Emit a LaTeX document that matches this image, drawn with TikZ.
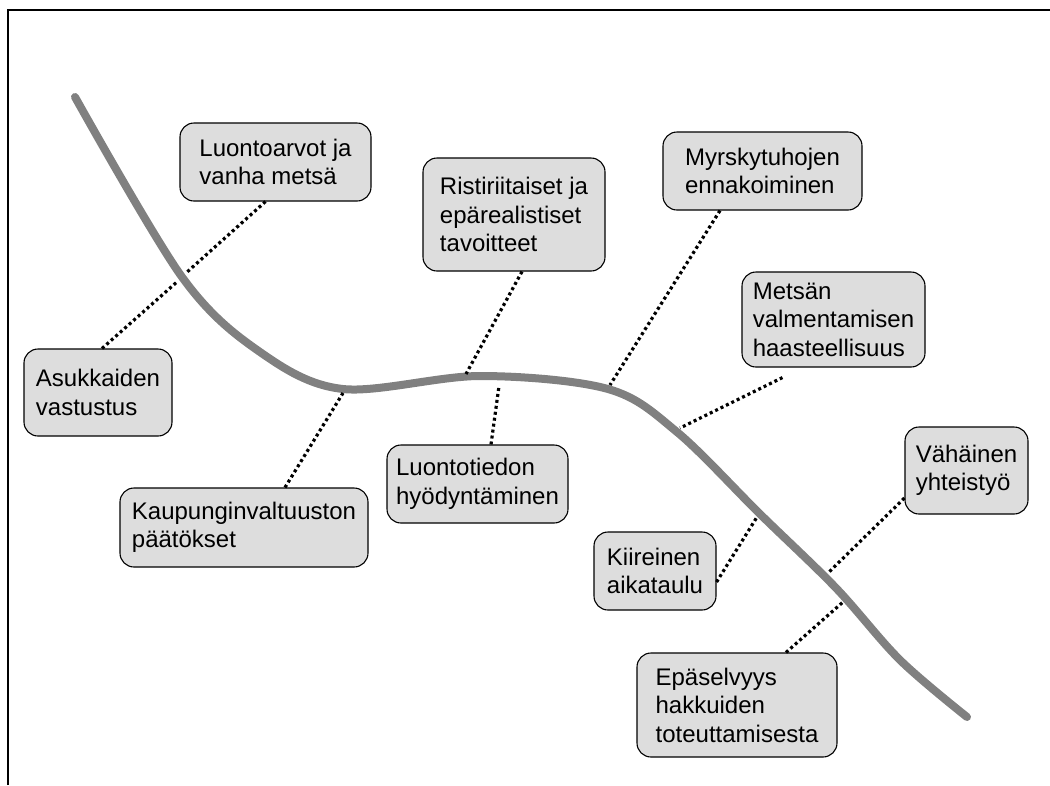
\documentclass[tikz,border=0pt]{standalone}
\usepackage{fontspec}
\setmainfont{Liberation Sans}
\usetikzlibrary{calc, positioning}
\definecolor{boxgray}{RGB}{221,221,221}
\definecolor{linegray}{RGB}{128,128,128}
\tikzset{
  cbox/.style={draw=black, fill=boxgray, rounded corners=14pt, line width=1.1pt, align=left, inner sep=4pt, font=\fontsize{24}{28.5}\selectfont},
  dots/.style={line width=3.2pt, dash pattern=on 3pt off 3pt},
  bigline/.style={linegray, line width=8pt, line cap=round}
}
\begin{document}
\begin{tikzpicture}[x=1pt, y=-1pt]
\useasboundingbox (0,0) rectangle (1050,785);
\draw[line width=1.5pt] (8,785) -- (8,10) -- (1050,10);

\node[cbox, minimum width=191pt, minimum height=78pt] (luonto) at (275.5,162) {Luontoarvot ja\\vanha metsä};
\node[cbox, minimum width=182pt, minimum height=113pt] (rist) at (514,214.5) {Ristiriitaiset ja\\epärealistiset\\tavoitteet};
\node[cbox, minimum width=199pt, minimum height=78pt] (myrsky) at (762.5,171) {Myrskytuhojen\\ennakoiminen};
\node[cbox, minimum width=183pt, minimum height=95pt] (metsan) at (833.5,319.5) {Metsän\\valmentamisen\\haasteellisuus};
\node[cbox, minimum width=148pt, minimum height=87pt] (asuk) at (98,392.5) {Asukkaiden\\vastustus};
\node[cbox, minimum width=248pt, minimum height=79pt] (kaup) at (244,527.5) {Kaupunginvaltuuston\\päätökset};
\node[cbox, minimum width=181pt, minimum height=78pt] (tied) at (477.5,484) {Luontotiedon\\hyödyntäminen};
\node[cbox, minimum width=122pt, minimum height=78pt] (kiir) at (655,571) {Kiireinen\\aikataulu};
\node[cbox, minimum width=123pt, minimum height=87pt] (vah) at (966.5,470.5) {Vähäinen\\yhteistyö};
\node[cbox, minimum width=200pt, minimum height=104pt] (epas) at (737,705) {Epäselvyys\\hakkuiden\\toteuttamisesta};

\draw[bigline] plot[smooth, tension=0.55] coordinates {(75,97) (182,277) (260,352) (343,389) (480,376) (608,389) (677,432) (760,514) (836,588) (900,660) (967,717)};

\coordinate (c-luonto) at (186,273);
\coordinate (c-asuk) at (178,281);
\coordinate (c-kaup) at (343,393);
\coordinate (c-rist) at (466,374);
\coordinate (c-tied) at (499,386);
\coordinate (c-myrsky) at (610,385);
\coordinate (c-metsan) at (680,428);
\coordinate (c-kiir) at (757,517);
\coordinate (c-vah) at (828,573);
\coordinate (c-epas) at (843,602);

\draw[dots] ([xshift=-10pt]luonto.south) -- (c-luonto);
\draw[dots] ([xshift=4pt]asuk.north) -- (c-asuk);
\draw[dots] ([xshift=41pt]kaup.north) -- (c-kaup);
\draw[dots] ([xshift=8pt]rist.south) -- (c-rist);
\draw[dots] ([xshift=13.5pt]tied.north) -- (c-tied);
\draw[dots] ([xshift=-42.5pt]myrsky.south) -- (c-myrsky);
\draw[dots] ([shift={(-51,10)}]metsan.south) -- (c-metsan);
\draw[dots] ([shift={(0,11)}]kiir.east) -- (c-kiir);
\draw[dots] ([shift={(0,27.5)}]vah.west) -- (c-vah);
\draw[dots] ([xshift=49pt]epas.north) -- (c-epas);
\end{tikzpicture}
\end{document}
